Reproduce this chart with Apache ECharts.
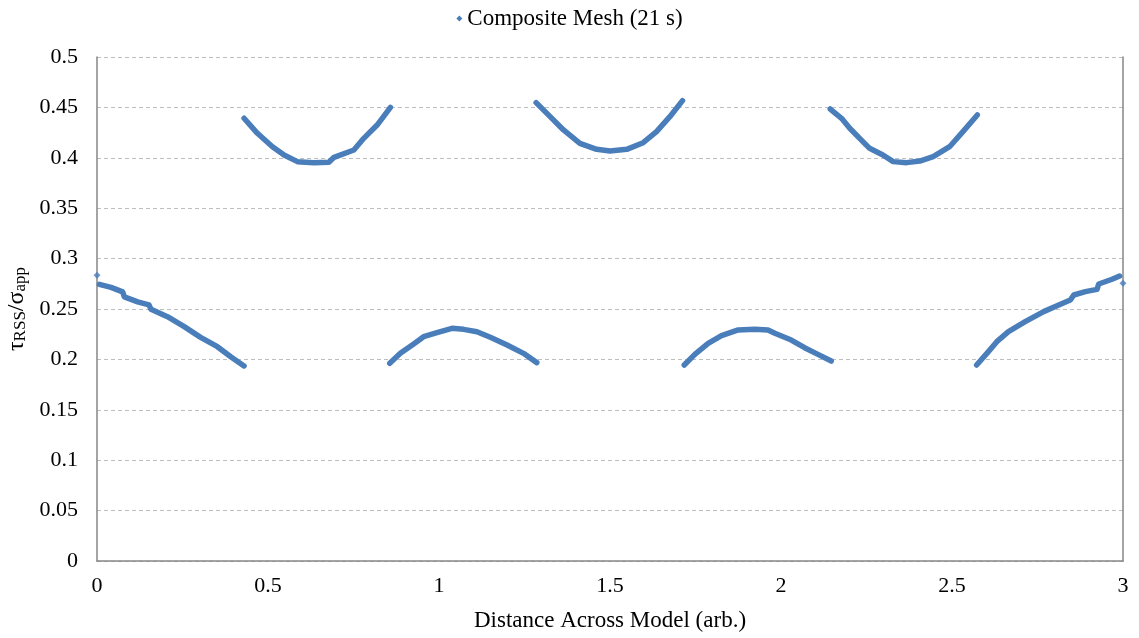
<!DOCTYPE html>
<html>
<head>
<meta charset="utf-8">
<title>Composite Mesh</title>
<script src="https://cdn.jsdelivr.net/npm/echarts@6/dist/echarts.min.js"></script>
<style>
  html, body { margin: 0; padding: 0; background: #ffffff; }
  #chart { width: 1139px; height: 638px; }
</style>
</head>
<body>
<div id="chart"></div>
<script>
// Resolved shear stress ratio along the model, sampled per grain segment
const seriesName = 'Composite Mesh (21 s)';

const seg1 = [[0.007,0.2745],[0.041,0.2715],[0.075,0.267],[0.080,0.262],[0.119,0.257],[0.152,0.254],[0.158,0.2497],[0.206,0.2424],[0.255,0.2325],[0.303,0.2219],[0.352,0.2126],[0.391,0.2027],[0.430,0.1935]];
const seg2 = [[0.430,0.4392],[0.469,0.4243],[0.513,0.411],[0.547,0.4028],[0.586,0.3962],[0.634,0.3952],[0.678,0.3955],[0.693,0.4005],[0.751,0.4077],[0.780,0.4193],[0.819,0.4325],[0.858,0.450]];
const seg3 = [[0.856,0.1961],[0.887,0.206],[0.926,0.2153],[0.955,0.2225],[0.994,0.2265],[1.038,0.2308],[1.072,0.2298],[1.111,0.2275],[1.150,0.2219],[1.199,0.2143],[1.247,0.206],[1.286,0.1968]];
const seg4 = [[1.284,0.4547],[1.325,0.4408],[1.364,0.4276],[1.412,0.4143],[1.461,0.4084],[1.500,0.4067],[1.549,0.4084],[1.597,0.415],[1.636,0.4259],[1.675,0.4408],[1.712,0.4567]];
const seg5 = [[1.717,0.1944],[1.748,0.205],[1.787,0.216],[1.826,0.2235],[1.875,0.2292],[1.923,0.2298],[1.962,0.2292],[1.982,0.2259],[2.030,0.2192],[2.069,0.2116],[2.108,0.205],[2.147,0.1984]];
const seg6 = [[2.144,0.4484],[2.177,0.4392],[2.201,0.4293],[2.230,0.4193],[2.259,0.4094],[2.298,0.4028],[2.328,0.3962],[2.367,0.3952],[2.406,0.3968],[2.445,0.4011],[2.493,0.4110],[2.532,0.4259],[2.574,0.4425]];
const seg7 = [[2.572,0.1944],[2.602,0.206],[2.631,0.2176],[2.665,0.2275],[2.714,0.2374],[2.768,0.2474],[2.812,0.254],[2.846,0.2589],[2.856,0.2639],[2.890,0.2672],[2.924,0.2695],[2.929,0.2748],[2.968,0.2795],[2.990,0.2827]];
const edgePoints = [[0.0,0.2835],[3.0,0.2755]];

const xTicks = [0, 0.5, 1, 1.5, 2, 2.5, 3];
const yTicks = [0, 0.05, 0.1, 0.15, 0.2, 0.25, 0.3, 0.35, 0.4, 0.45, 0.5];

const segments = [seg1, seg2, seg3, seg4, seg5, seg6, seg7];
const blue = '#4A7EBB';
const serif = '"Liberation Serif", "Times New Roman", serif';

const chart = echarts.init(document.getElementById('chart'), null, { renderer: 'canvas' });

const series = segments.map(seg => ({
  name: seriesName,
  type: 'line',
  data: seg,
  showSymbol: false,
  symbol: 'diamond',
  symbolSize: 6,
  lineStyle: { color: blue, width: 5.5, cap: 'round', join: 'round' },
  itemStyle: { color: blue },
  z: 3,
  animation: false
}));
series.push({
  name: seriesName,
  type: 'scatter',
  data: edgePoints,
  symbol: 'diamond',
  symbolSize: 7,
  itemStyle: { color: blue },
  z: 4,
  animation: false
});

chart.setOption({
  backgroundColor: '#ffffff',
  animation: false,
  legend: {
    top: 2,
    left: 'center',
    data: [{ name: seriesName, icon: 'diamond' }],
    itemWidth: 6,
    itemHeight: 6,
    itemGap: 7,
    textStyle: { fontFamily: serif, fontSize: 23, color: '#000' }
  },
  grid: { left: 97, right: 16, top: 57, bottom: 77, containLabel: false, outerBoundsMode: 'none' },
  xAxis: {
    type: 'value',
    min: xTicks[0],
    max: xTicks[xTicks.length - 1],
    interval: 0.5,
    name: 'Distance Across Model (arb.)',
    nameLocation: 'middle',
    nameGap: 48,
    nameTextStyle: { fontFamily: serif, fontSize: 23, color: '#000' },
    axisLine: { show: true, lineStyle: { color: '#868686', width: 1.5 } },
    axisTick: { show: false },
    splitLine: { show: false },
    axisLabel: { fontFamily: serif, fontSize: 22, color: '#000', margin: 14 }
  },
  yAxis: [{
    type: 'value',
    min: yTicks[0],
    max: yTicks[yTicks.length - 1],
    interval: 0.05,
    name: '{t|τ}{s|RSS}{t|/σ}{s|app}',
    nameLocation: 'middle',
    nameRotate: 90,
    nameGap: 66,
    nameTextStyle: {
      fontFamily: serif, color: '#000',
      rich: {
        t: { fontFamily: serif, fontSize: 24, color: '#000', verticalAlign: 'bottom', lineHeight: 28 },
        s: { fontFamily: serif, fontSize: 17, color: '#000', verticalAlign: 'bottom', lineHeight: 20 }
      }
    },
    axisLine: { show: true, lineStyle: { color: '#868686', width: 1.5 } },
    axisTick: { show: false },
    splitLine: { show: true, lineStyle: { color: '#BEBEBE', type: [4, 3], width: 1 } },
    axisLabel: { fontFamily: serif, fontSize: 22, color: '#000', margin: 19 }
  }, {
    type: 'value',
    position: 'right',
    min: yTicks[0],
    max: yTicks[yTicks.length - 1],
    interval: 0.05,
    axisLine: { show: true, lineStyle: { color: '#868686', width: 1.5 } },
    axisTick: { show: false },
    axisLabel: { show: false },
    splitLine: { show: false }
  }],
  series: series
});
</script>
</body>
</html>
